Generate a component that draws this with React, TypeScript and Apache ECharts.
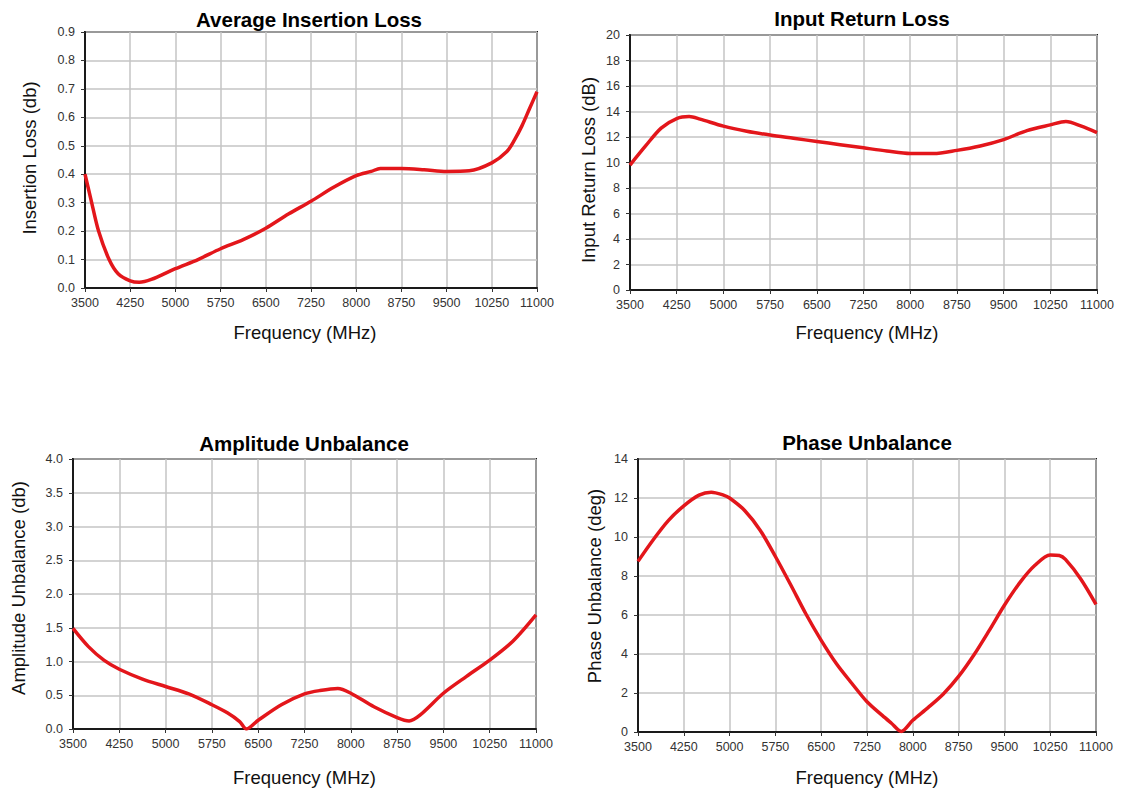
import React, { useEffect, useRef } from "react";
import * as echarts from "echarts";

// ---------- Data ----------
const xTicks = [3500, 4250, 5000, 5750, 6500, 7250, 8000, 8750, 9500, 10250, 11000];

const ilFreq = [3500, 3600, 3725, 3900, 4050, 4250, 4400, 4600, 5000, 5375, 5750, 6125, 6500, 6875, 7250, 7625, 8000, 8250, 8400, 8750, 9125, 9500, 9875, 10250, 10500, 10625, 10750, 10875, 11000];
const ilValues = [0.40, 0.31, 0.20, 0.10, 0.05, 0.025, 0.02, 0.03, 0.068, 0.10, 0.138, 0.17, 0.21, 0.26, 0.305, 0.354, 0.395, 0.41, 0.42, 0.42, 0.416, 0.41, 0.412, 0.44, 0.48, 0.52, 0.57, 0.63, 0.69];

const rlFreq = [3500, 3750, 4000, 4250, 4450, 4625, 5000, 5375, 5750, 6125, 6500, 6875, 7250, 7625, 8000, 8375, 8750, 9125, 9500, 9875, 10250, 10500, 10750, 11000];
const rlValues = [9.8, 11.3, 12.7, 13.45, 13.6, 13.4, 12.85, 12.45, 12.15, 11.9, 11.65, 11.4, 11.15, 10.9, 10.7, 10.7, 10.95, 11.3, 11.8, 12.5, 12.95, 13.22, 12.85, 12.35];

const auFreq = [3500, 3750, 4000, 4250, 4625, 5000, 5375, 5750, 6000, 6200, 6310, 6500, 6875, 7250, 7500, 7790, 8000, 8375, 8750, 8945, 9125, 9500, 9875, 10250, 10625, 11000];
const auValues = [1.49, 1.22, 1.02, 0.885, 0.74, 0.63, 0.52, 0.36, 0.24, 0.11, 0.0, 0.13, 0.36, 0.52, 0.57, 0.6, 0.53, 0.33, 0.17, 0.12, 0.21, 0.53, 0.78, 1.02, 1.3, 1.69];

const puFreq = [3500, 3750, 4000, 4250, 4500, 4700, 4900, 5000, 5250, 5500, 5750, 6000, 6250, 6500, 6750, 7000, 7250, 7500, 7650, 7810, 8000, 8250, 8500, 8750, 9000, 9250, 9500, 9750, 10000, 10250, 10400, 10500, 10750, 11000];
const puValues = [8.75, 9.86, 10.85, 11.6, 12.15, 12.3, 12.15, 12.0, 11.35, 10.35, 9.0, 7.55, 6.05, 4.7, 3.5, 2.5, 1.55, 0.85, 0.45, 0.03, 0.6, 1.25, 1.95, 2.85, 3.95, 5.2, 6.5, 7.65, 8.55, 9.08, 9.05, 8.85, 7.85, 6.55];

const titles = ["Average Insertion Loss", "Input Return Loss", "Amplitude Unbalance", "Phase Unbalance"];
const yNames = ["Insertion Loss (db)", "Input Return Loss (dB)", "Amplitude Unbalance (db)", "Phase Unbalance (deg)"];
const xName = "Frequency (MHz)";

// ---------- Layout ----------
const FONT = "Liberation Sans, Arial, Helvetica, sans-serif";
const grids = [
  { left: 85, top: 32, width: 452, height: 256 },
  { left: 630, top: 35, width: 467, height: 255 },
  { left: 73, top: 459, width: 463, height: 270 },
  { left: 638, top: 459, width: 458, height: 273 },
];
const yRanges = [
  { max: 0.9, interval: 0.1, dec: 1 },
  { max: 20, interval: 2, dec: 0 },
  { max: 4, interval: 0.5, dec: 1 },
  { max: 14, interval: 2, dec: 0 },
];
const titlePos = [[309, 19], [862, 18], [304, 443], [867, 442]];
const yNamePos = [[29, 158], [588, 170], [18, 588], [594, 586]];
const xNameGap = [35, 33, 39, 36];
const xNamePad = [[0, 12, 0, 0], [0, 0, 0, 7], [0, 0, 0, 0], [0, 0, 0, 0]];

const seriesData = [
  ilFreq.map((f, i) => [f, ilValues[i]]),
  rlFreq.map((f, i) => [f, rlValues[i]]),
  auFreq.map((f, i) => [f, auValues[i]]),
  puFreq.map((f, i) => [f, puValues[i]]),
];

export default function App() {
  const ref = useRef<HTMLDivElement>(null);

  useEffect(() => {
    if (!ref.current) return;
    const chart = echarts.init(ref.current, undefined, { renderer: "svg" });

    const option: any = {
      animation: false,
      backgroundColor: "#ffffff",
      grid: grids.map((g) => ({
        ...g,
        show: true,
        borderColor: "#1a1a1a",
        borderWidth: 2,
        backgroundColor: "transparent",
        containLabel: false,
        outerBoundsMode: "none",
      })),
      xAxis: grids.map((_, i) => ({
        type: "value",
        gridIndex: i,
        min: 3500,
        max: 11000,
        name: xName,
        nameLocation: "middle",
        nameGap: xNameGap[i],
        nameTextStyle: { fontFamily: FONT, fontSize: 18.5, color: "#111", padding: xNamePad[i] },
        axisLine: { show: true, lineStyle: { color: "#1a1a1a", width: 2 } },
        axisTick: { show: true, length: 4, customValues: xTicks, lineStyle: { color: "#333", width: 1 } },
        axisLabel: {
          customValues: xTicks,
          formatter: (v: number) => String(v),
          fontFamily: FONT,
          fontSize: 12.5,
          color: "#333",
          margin: 8,
        },
        splitLine: { show: true, lineStyle: { color: "#c4c4c4", width: 1.5 } },
      })),
      yAxis: grids.map((_, i) => ({
        type: "value",
        gridIndex: i,
        min: 0,
        max: yRanges[i].max,
        interval: yRanges[i].interval,
        axisLine: { show: true, lineStyle: { color: "#1a1a1a", width: 2 } },
        axisTick: { show: true, length: 4, lineStyle: { color: "#333", width: 1 } },
        axisLabel: {
          formatter: (v: number) => v.toFixed(yRanges[i].dec),
          fontFamily: FONT,
          fontSize: 12.5,
          color: "#333",
          margin: 10,
        },
        splitLine: { show: true, lineStyle: { color: "#c4c4c4", width: 1.5 } },
      })),
      series: seriesData.map((d, i) => ({
        type: "line",
        xAxisIndex: i,
        yAxisIndex: i,
        data: d,
        smooth: 0.3,
        showSymbol: false,
        symbol: "none",
        lineStyle: { color: "#e3161b", width: 3.5 },
        clip: true,
      })),
      graphic: [
        ...titles.map((t, i) => ({
          type: "text",
          x: titlePos[i][0],
          y: titlePos[i][1],
          style: {
            text: t,
            fontFamily: FONT,
            fontSize: 20.5,
            fontWeight: "bold",
            fill: "#000",
            align: "center",
            verticalAlign: "middle",
          },
        })),
        ...yNames.map((t, i) => ({
          type: "text",
          x: yNamePos[i][0],
          y: yNamePos[i][1],
          rotation: Math.PI / 2,
          style: {
            text: t,
            fontFamily: FONT,
            fontSize: 18.5,
            fill: "#111",
            align: "center",
            verticalAlign: "middle",
          },
        })),
      ],
    };

    chart.setOption(option);
    return () => {
      chart.dispose();
    };
  }, []);

  return (
    <div
      ref={ref}
      style={{ position: "absolute", left: 0, top: 0, width: 1124, height: 788, background: "#fff" }}
    />
  );
}
